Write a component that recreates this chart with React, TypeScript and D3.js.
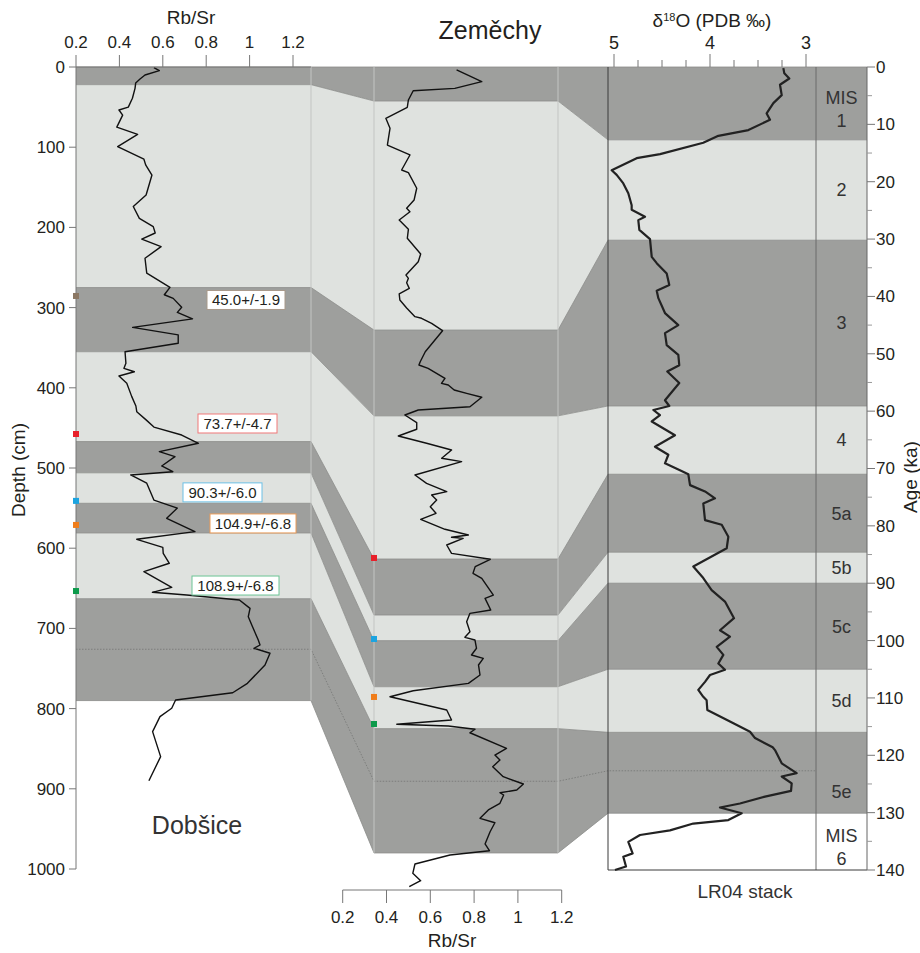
import React from 'react';
import * as d3 from 'd3';

// ---------- DATA ----------
const dobDepth = [0.8,4.6,10,15,20,26.6,39,50,53.6,60,75,84,99.4,115,122,134.7,159.6,174,188.7,199,207,214.5,224,238.5,257,274.7,284,288.5,299.6,306,314,324.6,334,344.5,355,369.5,375.7,380,385.3,394.4,411,422.7,429.8,440,449,458.9,469.2,479.6,485.9,497.5,504.6,508.7,519,540,550,562.7,579.4,588.9,598.9,606.4,618.8,629.3,648.8,655,658.4,664.6,675,685.4,695.8,714.5,720.7,724.8,731,745.6,768.5,780.2,789.3,799.6,810,828.7,859.9,889.9];
const dobRbSr = [0.559,0.584,0.518,0.495,0.475,0.472,0.46,0.441,0.398,0.415,0.388,0.484,0.392,0.513,0.521,0.55,0.523,0.464,0.492,0.556,0.565,0.503,0.592,0.518,0.526,0.633,0.607,0.648,0.687,0.667,0.737,0.461,0.671,0.671,0.426,0.43,0.421,0.469,0.398,0.434,0.457,0.476,0.48,0.523,0.559,0.687,0.764,0.584,0.656,0.595,0.646,0.452,0.526,0.559,0.667,0.618,0.748,0.48,0.6,0.602,0.63,0.513,0.641,0.552,0.71,0.953,1.002,0.994,1.01,1.04,1.048,1.02,1.094,1.071,0.99,0.922,0.659,0.641,0.587,0.553,0.59,0.536];

const zemDepth = [3.7,18.3,26.6,29.6,41.1,50.2,64,76.4,97.3,109.7,128.4,131.8,151.2,165.8,176.2,180.4,190.8,202.4,213.6,233.2,242.8,259.4,263.5,269,276,283,290.5,300.5,311.3,313.3,319.6,328.8,355,367.5,371.6,375.7,388.2,394.4,396.5,402.7,406.9,411.8,423.6,427.7,433.9,443.5,451.7,460.1,469.2,477.6,487.9,492.1,508.7,519.1,529.5,533.7,539.9,548.3,556.5,564,576.4,583.5,586.4,587.7,596,606.4,613.8,623,631.3,637.5,658.4,662.5,677.1,681.2,691.6,704.1,711.1,714.5,724.8,733.2,737.3,745.6,758.1,768.5,777.7,785.2,801.7,814.2,819.6,821.7,825.8,830.1,849.5,857.9,864.1,872.4,884.9,894,901.5,904.9,907.7,918.1,926.4,936.8,942.3,953.5,968.8,977.2,982.5,993.8,1005.4,1014.6,1022.1];
const zemRbSr = [0.72,0.835,0.712,0.522,0.5,0.495,0.397,0.416,0.404,0.507,0.469,0.5,0.538,0.526,0.492,0.507,0.458,0.5,0.495,0.556,0.545,0.489,0.5,0.492,0.504,0.458,0.461,0.492,0.53,0.56,0.606,0.656,0.577,0.554,0.548,0.59,0.667,0.651,0.682,0.709,0.766,0.835,0.781,0.545,0.484,0.538,0.538,0.454,0.583,0.697,0.652,0.743,0.53,0.583,0.675,0.606,0.629,0.6,0.626,0.556,0.667,0.774,0.697,0.75,0.675,0.697,0.874,0.805,0.795,0.835,0.888,0.85,0.876,0.781,0.766,0.781,0.758,0.804,0.811,0.788,0.842,0.82,0.827,0.774,0.522,0.416,0.675,0.697,0.447,0.682,0.804,0.781,0.948,0.895,0.918,0.885,0.933,1.025,0.995,0.918,0.935,0.918,0.865,0.827,0.895,0.873,0.85,0.87,0.69,0.53,0.52,0.556,0.504];

const lrAge = [0.2,1.1,2,3.1,4.9,6.3,8.1,9.2,11,12,13.2,15.2,15.9,18,18.8,20.3,22,24.1,24.9,26.1,26.7,28.4,30,33.1,34.2,36,38,39,40.3,42.9,45,46.4,48.5,50.2,52,53.1,55.1,58.1,59.1,59.8,60.7,61.8,64.2,66.2,67.6,69.1,70.3,71,72.9,74,75.2,76.1,79,79.8,81.9,83.9,87.1,89.1,91.2,93.2,96.1,98.2,99.3,101.1,102.5,104,105.1,106,107.2,108.6,109.8,110.4,112.1,114.1,115.9,117,118.6,119.1,121.4,123.1,123.7,124.9,126.2,127.2,128.4,129.1,130.1,131.3,131.9,133.1,133.9,135.1,137.1,137.7,139.4,140];
const lrD18O = [3.236,3.226,3.174,3.271,3.253,3.34,3.41,3.375,3.6,3.913,4.07,4.52,4.764,5.024,4.972,4.903,4.851,4.816,4.816,4.677,4.747,4.736,4.625,4.607,4.555,4.451,4.424,4.555,4.538,4.469,4.33,4.469,4.451,4.33,4.32,4.445,4.32,4.469,4.424,4.59,4.521,4.607,4.365,4.573,4.434,4.469,4.313,4.226,4.208,4.052,3.948,4.07,4.052,3.878,3.809,3.826,4.174,4.07,3.983,3.844,3.75,3.896,3.792,3.93,3.861,3.913,3.844,4.0,4.052,4.122,4.07,4.035,4.028,3.792,3.583,3.531,3.347,3.323,3.253,3.097,3.253,3.149,3.156,3.427,3.688,3.896,3.67,3.809,4.174,4.417,4.729,4.851,4.806,4.903,4.875,4.99];

// Band boundaries (MIS 1, 2, 3, 4, 5a, 5b, 5c, 5d, 5e)
const dobBounds = [0, 22, 275, 355, 467, 506, 544, 581, 663, 790];
const zemBounds = [0, 42.4, 328, 435, 613.5, 683.3, 715.3, 772.7, 825, 980];
const lrBounds = [0, 12.7, 30.2, 59.1, 71, 84.6, 90, 105, 116, 130.1, 140];
const sub5e = { dob: 726, zem: 890.6, lr: 122.7 };
const misLabels = [['MIS', '1'], ['2'], ['3'], ['4'], ['5a'], ['5b'], ['5c'], ['5d'], ['5e'], ['MIS', '6']];

const dateLabels = ['45.0+/-1.9', '73.7+/-4.7', '90.3+/-6.0', '104.9+/-6.8', '108.9+/-6.8'];
const dateDobDepth = [285.5, 457.6, 541, 571, 653.4];
const dateZemDepth = [null, 612.2, 713.2, 785.5, 819.2];
const dateColors = ['#8b7763', '#e8202a', '#1ca4e0', '#f07d1a', '#0d9a4b'];
const dateBorders = ['#a8998a', '#f07878', '#6cc0e6', '#ec9c58', '#6cc495'];

const rbTicks = [0.2, 0.4, 0.6, 0.8, 1, 1.2];
const depthTicks = d3.range(0, 1001, 100);
const ageTicks = d3.range(0, 141, 10);
const ageMinor = d3.range(5, 140, 10);
const d18Major = [5, 4, 3];
const d18Minor = [4.75, 4.5, 4.25, 3.75, 3.5, 3.25];

// ---------- LAYOUT ----------
const labelLayout = [
  { cx: 246, dy: 4, w: 78 },
  { cx: 237.5, dy: -10.5, w: 79 },
  { cx: 222.5, dy: -8.5, w: 79 },
  { cx: 253, dy: -1.5, w: 86 },
  { cx: 235.5, dy: -5.5, w: 87 },
];

const DARK = '#9e9f9d';
const LIGHT = '#dfe2df';
const EDGE = '#8a8b89';
const FONT = '"Liberation Sans", Arial, Helvetica, sans-serif';
const TXT = '#231f20';

export default function App() {
  const yDob = d3.scaleLinear().domain([0, 1000]).range([67, 869]);
  const yZem = d3.scaleLinear().domain([0, 1000]).range([67, 869]);
  const yAge = d3.scaleLinear().domain([0, 140]).range([67, 870]);
  const xDob = d3.scaleLinear().domain([0.2, 1.2]).range([76, 293]);
  const xZem = d3.scaleLinear().domain([0.2, 1.2]).range([342.7, 561.7]);
  const xO = d3.scaleLinear().domain([5, 3]).range([614, 806]);

  const L0 = 76, L1 = 311, M0 = 374, M1 = 558, R0 = 608, R1 = 816, R2 = 867;

  const dobLine = d3.line<number>().x((_, i) => xDob(dobRbSr[i])).y((d) => yDob(d))(dobDepth) || '';
  const zemLine = d3.line<number>().x((_, i) => xZem(zemRbSr[i])).y((d) => yZem(d))(zemDepth) || '';
  const lrLine = d3.line<number>().x((_, i) => xO(lrD18O[i])).y((d) => yAge(d))(lrAge) || '';

  const nBands = 9;
  const bands = d3.range(nBands);
  const fillOf = (i: number) => (i % 2 === 0 ? DARK : LIGHT);

  const poly = (pts: number[][]) => 'M' + pts.map((p) => p.join(',')).join('L') + 'Z';

  return (
    <svg width={920} height={953} style={{ position: 'absolute', left: 0, top: 0, background: '#fff' }} fontFamily={FONT}>
      {/* bands */}
      {bands.map((i) => (
        <g key={'b' + i}>
          <rect x={L0} y={yDob(dobBounds[i])} width={L1 - L0} height={yDob(dobBounds[i + 1]) - yDob(dobBounds[i])} fill={fillOf(i)} />
          <path d={poly([[L1, yDob(dobBounds[i])], [M0, yZem(zemBounds[i])], [M0, yZem(zemBounds[i + 1])], [L1, yDob(dobBounds[i + 1])]])} fill={fillOf(i)} />
          <rect x={M0} y={yZem(zemBounds[i])} width={M1 - M0} height={yZem(zemBounds[i + 1]) - yZem(zemBounds[i])} fill={fillOf(i)} />
          <path d={poly([[M1, yZem(zemBounds[i])], [R0, yAge(lrBounds[i])], [R0, yAge(lrBounds[i + 1])], [M1, yZem(zemBounds[i + 1])]])} fill={fillOf(i)} />
          <rect x={R0} y={yAge(lrBounds[i])} width={R2 - R0} height={yAge(lrBounds[i + 1]) - yAge(lrBounds[i])} fill={fillOf(i)} />
        </g>
      ))}
      {/* band boundary lines */}
      {d3.range(nBands + 1).map((i) => (
        <path key={'e' + i} fill="none" stroke={EDGE} strokeWidth={0.8}
          d={`M${L0},${yDob(dobBounds[i])}L${L1},${yDob(dobBounds[i])}L${M0},${yZem(zemBounds[i])}L${M1},${yZem(zemBounds[i])}L${R0},${yAge(lrBounds[i])}L${R2},${yAge(lrBounds[i])}`} />
      ))}
      {/* 5e sub boundary dotted */}
      <path fill="none" stroke="#6f706e" strokeWidth={0.7} strokeDasharray="1.5,1.5"
        d={`M${L0},${yDob(sub5e.dob)}L${L1},${yDob(sub5e.dob)}L${M0},${yZem(sub5e.zem)}L${M1},${yZem(sub5e.zem)}L${R0},${yAge(sub5e.lr)}L${R1},${yAge(sub5e.lr)}`} />
      {/* panel verticals */}
      <line x1={L1} x2={L1} y1={67} y2={yDob(dobBounds[nBands])} stroke="#c3c5c3" strokeWidth={1} />
      <line x1={M0} x2={M0} y1={67} y2={yZem(zemBounds[nBands])} stroke="#c3c5c3" strokeWidth={1} />
      <line x1={M1} x2={M1} y1={67} y2={yZem(zemBounds[nBands])} stroke="#c3c5c3" strokeWidth={1} />
      {/* right panel frame */}
      <line x1={R0} x2={R0} y1={67} y2={870} stroke="#3a3a3a" strokeWidth={1} />
      <line x1={R1} x2={R1} y1={67} y2={870} stroke="#6a6a6a" strokeWidth={1} />
      <line x1={R0} x2={R2} y1={870} y2={870} stroke="#3a3a3a" strokeWidth={1} />

      {/* curves */}
      <path d={dobLine} fill="none" stroke="#111" strokeWidth={1.4} strokeLinejoin="round" />
      <path d={zemLine} fill="none" stroke="#111" strokeWidth={1.4} strokeLinejoin="round" />
      <path d={lrLine} fill="none" stroke="#222" strokeWidth={2.2} strokeLinejoin="round" />

      {/* top Rb/Sr axis */}
      <line x1={L0} x2={L1} y1={67} y2={67} stroke="#777" strokeWidth={1} />
      {rbTicks.map((t) => (
        <g key={'rt' + t}>
          <line x1={xDob(t)} x2={xDob(t)} y1={55} y2={67} stroke="#777" strokeWidth={1} />
          <text x={xDob(t)} y={48} textAnchor="middle" fontSize={17} fill={TXT}>{t}</text>
        </g>
      ))}
      <text x={191} y={24} textAnchor="middle" fontSize={19} fill={TXT}>Rb/Sr</text>

      {/* depth axis */}
      <line x1={L0} x2={L0} y1={67} y2={869} stroke="#777" strokeWidth={1} />
      {depthTicks.map((t) => (
        <g key={'dt' + t}>
          <line x1={69} x2={L0} y1={yDob(t)} y2={yDob(t)} stroke="#777" strokeWidth={1} />
          <text x={65} y={yDob(t)} dy="0.35em" textAnchor="end" fontSize={17} fill={TXT}>{t}</text>
        </g>
      ))}
      <text transform="translate(25,470) rotate(-90)" textAnchor="middle" fontSize={19} fill={TXT}>Depth (cm)</text>

      {/* bottom Rb/Sr axis (Zemechy) */}
      <line x1={xZem(0.2)} x2={xZem(1.2)} y1={890} y2={890} stroke="#777" strokeWidth={1} />
      {rbTicks.map((t) => (
        <g key={'bt' + t}>
          <line x1={xZem(t)} x2={xZem(t)} y1={890} y2={903} stroke="#777" strokeWidth={1} />
          <text x={xZem(t)} y={923} textAnchor="middle" fontSize={17} fill={TXT}>{t}</text>
        </g>
      ))}
      <text x={452} y={947} textAnchor="middle" fontSize={19} fill={TXT}>Rb/Sr</text>

      {/* d18O axis */}
      {d18Major.map((t) => (
        <g key={'ot' + t}>
          <line x1={xO(t)} x2={xO(t)} y1={54} y2={67} stroke="#777" strokeWidth={1} />
          <text x={xO(t)} y={49} textAnchor="middle" fontSize={18} fill={TXT}>{t}</text>
        </g>
      ))}
      {d18Minor.map((t) => (
        <line key={'om' + t} x1={xO(t)} x2={xO(t)} y1={60} y2={67} stroke="#777" strokeWidth={1} />
      ))}
      <text x={712} y={27} textAnchor="middle" fontSize={19} fill={TXT}>
        δ<tspan fontSize={11} dy={-6}>18</tspan><tspan dy={6}>O (PDB ‰)</tspan>
      </text>

      {/* age axis */}
      <line x1={R2} x2={R2} y1={67} y2={870} stroke="#666" strokeWidth={1} />
      {ageTicks.map((t) => (
        <g key={'at' + t}>
          <line x1={R2} x2={R2 + 8} y1={yAge(t)} y2={yAge(t)} stroke="#777" strokeWidth={1} />
          <text x={R2 + 9} y={yAge(t)} dy="0.35em" fontSize={17} fill={TXT}>{t}</text>
        </g>
      ))}
      {ageMinor.map((t) => (
        <line key={'am' + t} x1={R2} x2={R2 + 5} y1={yAge(t)} y2={yAge(t)} stroke="#999" strokeWidth={1} />
      ))}
      <text transform="translate(917,477) rotate(-90)" textAnchor="middle" fontSize={19} fill={TXT}>Age (ka)</text>

      {/* MIS labels */}
      {misLabels.map((lab, i) => {
        let c = (yAge(lrBounds[i]) + yAge(lrBounds[i + 1])) / 2;
        if (i === 8) c = (yAge(sub5e.lr) + yAge(lrBounds[i + 1])) / 2;
        if (lab.length === 2) c += 6;
        const x = (R1 + R2) / 2;
        return (
          <g key={'mis' + i}>
            {lab.map((s, k) => (
              <text key={k} x={x} y={c + (k - (lab.length - 1) / 2) * 23} dy="0.35em" textAnchor="middle" fontSize={18} fill="#333">{s}</text>
            ))}
          </g>
        );
      })}

      {/* date labels & markers */}
      {dateLabels.map((s, i) => {
        const ly = labelLayout[i];
        const cy = yDob(dateDobDepth[i]) + ly.dy;
        return (
          <g key={'dl' + i}>
            <rect x={L0 - 3} y={yDob(dateDobDepth[i]) - 3} width={6} height={6} fill={dateColors[i]} />
            <rect x={ly.cx - ly.w / 2} y={cy - 9.5} width={ly.w} height={19} fill="#fff" stroke={dateBorders[i]} strokeWidth={1} />
            <text x={ly.cx} y={cy} dy="0.36em" textAnchor="middle" fontSize={15} fill={TXT}>{s}</text>
            {dateZemDepth[i] != null && (
              <rect x={M0 - 3} y={yZem(dateZemDepth[i] as number) - 3} width={6} height={6} fill={dateColors[i]} />
            )}
          </g>
        );
      })}

      {/* site titles */}
      <text x={490} y={39} textAnchor="middle" fontSize={25} fill={TXT}>Zeměchy</text>
      <text x={197} y={834} textAnchor="middle" fontSize={25} fill="#333">Dobšice</text>
      <text x={745} y={898} textAnchor="middle" fontSize={19} fill="#333">LR04 stack</text>
    </svg>
  );
}
